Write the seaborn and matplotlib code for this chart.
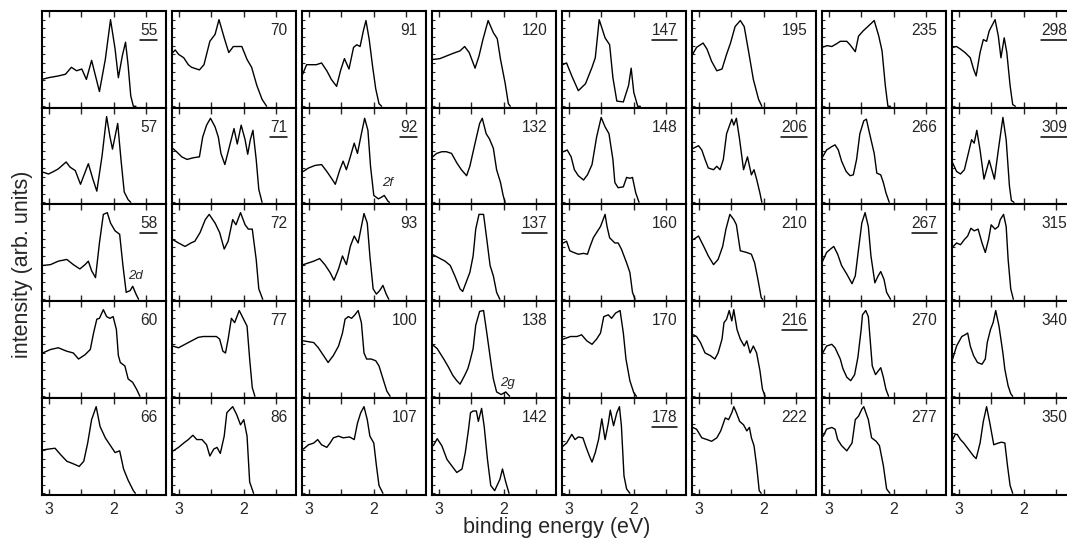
import pandas as pd
import seaborn as sns
import matplotlib.pyplot as plt
from matplotlib.lines import Line2D

# each spectrum: binding energies (eV) and intensities (arb. units)
e55 = [3.10, 3.00, 2.85, 2.74, 2.65, 2.57, 2.49, 2.42, 2.34, 2.22, 2.13, 2.05, 1.98, 1.93, 1.87, 1.82, 1.78, 1.74, 1.70, 1.66]
s55 = [0.31, 0.33, 0.35, 0.37, 0.45, 0.41, 0.43, 0.31, 0.53, 0.17, 0.54, 1.00, 0.66, 0.33, 0.58, 0.74, 0.47, 0.12, 0.00, 0.00]
e70 = [3.09, 3.05, 3.00, 2.92, 2.85, 2.80, 2.68, 2.61, 2.52, 2.44, 2.38, 2.30, 2.23, 2.16, 2.03, 1.95, 1.88, 1.80, 1.72, 1.65]
s70 = [0.62, 0.65, 0.60, 0.56, 0.48, 0.45, 0.42, 0.48, 0.75, 0.83, 1.00, 0.79, 0.62, 0.69, 0.69, 0.54, 0.45, 0.24, 0.08, 0.00]
e91 = [3.09, 3.03, 2.88, 2.80, 2.72, 2.65, 2.57, 2.51, 2.45, 2.38, 2.31, 2.26, 2.21, 2.16, 2.12, 2.07, 2.02, 1.97, 1.92, 1.88]
s91 = [0.37, 0.48, 0.48, 0.50, 0.41, 0.31, 0.23, 0.41, 0.55, 0.43, 0.68, 0.71, 0.69, 0.87, 0.99, 0.77, 0.47, 0.20, 0.03, 0.00]
e120 = [3.09, 2.98, 2.88, 2.78, 2.67, 2.60, 2.53, 2.44, 2.38, 2.32, 2.24, 2.16, 2.10, 2.05, 1.98, 1.93, 1.90]
s120 = [0.54, 0.55, 0.58, 0.61, 0.64, 0.69, 0.62, 0.44, 0.58, 0.77, 0.99, 0.85, 0.78, 0.54, 0.27, 0.03, 0.00]
e147 = [3.09, 3.03, 2.95, 2.85, 2.74, 2.64, 2.59, 2.53, 2.44, 2.37, 2.32, 2.26, 2.16, 2.08, 2.04, 2.00, 1.94, 1.90]
s147 = [0.48, 0.50, 0.35, 0.18, 0.26, 0.45, 0.56, 1.00, 0.79, 0.71, 0.33, 0.06, 0.05, 0.24, 0.44, 0.16, 0.00, 0.00]
e195 = [3.09, 3.03, 2.93, 2.87, 2.80, 2.72, 2.64, 2.57, 2.51, 2.44, 2.36, 2.30, 2.23, 2.16, 2.08, 2.03]
s195 = [0.60, 0.68, 0.73, 0.66, 0.52, 0.41, 0.43, 0.60, 0.73, 0.92, 0.99, 0.92, 0.62, 0.31, 0.08, 0.00]
e235 = [3.10, 3.02, 2.95, 2.88, 2.82, 2.72, 2.67, 2.59, 2.54, 2.47, 2.37, 2.30, 2.23, 2.18, 2.13, 2.09, 2.05]
s235 = [0.68, 0.70, 0.69, 0.72, 0.75, 0.75, 0.71, 0.63, 0.81, 0.87, 0.94, 0.99, 0.81, 0.64, 0.24, 0.00, 0.00]
e298 = [3.09, 3.03, 2.97, 2.90, 2.82, 2.77, 2.73, 2.67, 2.62, 2.57, 2.53, 2.44, 2.39, 2.35, 2.30, 2.26, 2.21, 2.17, 2.13]
s298 = [0.68, 0.69, 0.66, 0.62, 0.56, 0.43, 0.35, 0.62, 0.77, 0.75, 0.87, 1.00, 0.81, 0.56, 0.79, 0.62, 0.24, 0.02, 0.00]

e57 = [3.08, 3.00, 2.92, 2.85, 2.73, 2.67, 2.59, 2.51, 2.39, 2.32, 2.26, 2.18, 2.11, 2.06, 2.02, 1.98, 1.94, 1.89, 1.84, 1.78, 1.74]
s57 = [0.35, 0.33, 0.36, 0.39, 0.47, 0.41, 0.37, 0.21, 0.45, 0.27, 0.13, 0.54, 1.00, 0.77, 0.62, 0.77, 0.92, 0.50, 0.12, 0.03, 0.00]
e71 = [3.09, 3.03, 2.95, 2.87, 2.77, 2.68, 2.63, 2.57, 2.51, 2.44, 2.39, 2.35, 2.29, 2.22, 2.15, 2.10, 2.04, 1.98, 1.94, 1.90, 1.86, 1.81, 1.77, 1.72]
s71 = [0.63, 0.59, 0.53, 0.50, 0.52, 0.53, 0.76, 0.90, 0.98, 0.88, 0.76, 0.57, 0.44, 0.65, 0.86, 0.68, 0.90, 0.73, 0.56, 0.73, 0.84, 0.50, 0.15, 0.00]
e92 = [3.08, 3.00, 2.90, 2.80, 2.72, 2.64, 2.59, 2.52, 2.47, 2.42, 2.36, 2.30, 2.25, 2.19, 2.14, 2.09, 2.05, 2.00, 1.93, 1.88, 1.84, 1.78, 1.76]
s92 = [0.36, 0.40, 0.43, 0.44, 0.36, 0.27, 0.21, 0.38, 0.48, 0.38, 0.53, 0.69, 0.57, 0.80, 0.98, 0.84, 0.42, 0.08, 0.04, 0.06, 0.08, 0.01, 0.00]
e132 = [3.09, 3.03, 2.95, 2.88, 2.80, 2.72, 2.65, 2.57, 2.52, 2.44, 2.37, 2.33, 2.27, 2.22, 2.16, 2.11, 2.05, 2.01, 1.98]
s132 = [0.53, 0.57, 0.59, 0.59, 0.57, 0.46, 0.38, 0.31, 0.42, 0.69, 0.92, 0.98, 0.80, 0.74, 0.63, 0.38, 0.23, 0.08, 0.00]
e148 = [3.08, 3.02, 2.96, 2.91, 2.85, 2.77, 2.71, 2.64, 2.57, 2.50, 2.44, 2.38, 2.32, 2.29, 2.24, 2.16, 2.11, 2.06, 2.02, 1.97, 1.92]
s148 = [0.59, 0.61, 0.53, 0.38, 0.31, 0.26, 0.32, 0.44, 0.76, 0.99, 0.88, 0.80, 0.50, 0.23, 0.17, 0.18, 0.29, 0.28, 0.29, 0.11, 0.00]
e206 = [3.08, 3.00, 2.95, 2.90, 2.85, 2.77, 2.72, 2.67, 2.62, 2.57, 2.49, 2.46, 2.42, 2.37, 2.31, 2.25, 2.19, 2.15, 2.11, 2.06, 2.03]
s206 = [0.63, 0.66, 0.61, 0.50, 0.40, 0.38, 0.42, 0.38, 0.50, 0.80, 0.97, 0.90, 0.98, 0.73, 0.38, 0.53, 0.32, 0.38, 0.27, 0.11, 0.00]
e266 = [3.09, 3.03, 2.95, 2.90, 2.85, 2.80, 2.73, 2.67, 2.62, 2.57, 2.52, 2.46, 2.42, 2.37, 2.30, 2.26, 2.20, 2.16, 2.12, 2.07]
s266 = [0.53, 0.61, 0.65, 0.67, 0.61, 0.48, 0.36, 0.31, 0.32, 0.50, 0.80, 0.95, 0.97, 0.80, 0.57, 0.34, 0.32, 0.23, 0.11, 0.00]
e309 = [3.09, 3.03, 2.97, 2.91, 2.85, 2.80, 2.76, 2.72, 2.67, 2.61, 2.53, 2.45, 2.39, 2.32, 2.27, 2.22, 2.19, 2.15]
s309 = [0.46, 0.36, 0.33, 0.38, 0.57, 0.73, 0.69, 0.84, 0.61, 0.27, 0.49, 0.27, 0.61, 0.99, 0.73, 0.19, 0.02, 0.00]

e58 = [3.09, 2.97, 2.85, 2.72, 2.62, 2.52, 2.44, 2.39, 2.34, 2.28, 2.22, 2.16, 2.10, 2.05, 1.98, 1.91, 1.86, 1.81, 1.75, 1.71, 1.66, 1.62]
s58 = [0.39, 0.40, 0.44, 0.46, 0.40, 0.35, 0.40, 0.44, 0.33, 0.25, 0.65, 0.98, 1.00, 0.88, 0.79, 0.75, 0.39, 0.08, 0.10, 0.15, 0.06, 0.00]
e72 = [3.09, 3.00, 2.90, 2.81, 2.75, 2.67, 2.59, 2.53, 2.44, 2.37, 2.30, 2.24, 2.17, 2.12, 2.05, 1.98, 1.93, 1.87, 1.81, 1.77, 1.71]
s72 = [0.69, 0.65, 0.61, 0.65, 0.67, 0.77, 0.92, 0.98, 0.88, 0.77, 0.58, 0.67, 0.92, 0.86, 1.00, 0.86, 0.81, 0.81, 0.46, 0.12, 0.00]
e93 = [3.08, 3.00, 2.92, 2.83, 2.75, 2.67, 2.61, 2.54, 2.48, 2.42, 2.36, 2.30, 2.24, 2.19, 2.15, 2.10, 2.06, 2.01, 1.96, 1.91, 1.86, 1.81, 1.77]
s93 = [0.40, 0.42, 0.44, 0.47, 0.40, 0.31, 0.22, 0.35, 0.50, 0.40, 0.61, 0.73, 0.65, 0.84, 0.99, 0.88, 0.50, 0.12, 0.06, 0.10, 0.16, 0.06, 0.00]
e137 = [3.10, 3.00, 2.90, 2.82, 2.75, 2.67, 2.63, 2.57, 2.52, 2.47, 2.43, 2.38, 2.31, 2.26, 2.21, 2.16, 2.11, 2.06]
s137 = [0.52, 0.48, 0.44, 0.39, 0.27, 0.12, 0.09, 0.21, 0.31, 0.50, 0.81, 0.98, 0.98, 0.69, 0.39, 0.27, 0.08, 0.00]
e160 = [3.08, 3.03, 2.98, 2.92, 2.85, 2.77, 2.71, 2.67, 2.62, 2.57, 2.51, 2.44, 2.41, 2.37, 2.29, 2.24, 2.19, 2.11, 2.06, 2.02, 1.98]
s160 = [0.65, 0.67, 0.56, 0.54, 0.52, 0.53, 0.52, 0.61, 0.71, 0.77, 0.84, 0.98, 0.84, 0.71, 0.65, 0.65, 0.58, 0.42, 0.31, 0.08, 0.00]
e210 = [3.08, 3.00, 2.92, 2.85, 2.77, 2.70, 2.63, 2.58, 2.52, 2.46, 2.42, 2.36, 2.26, 2.19, 2.14, 2.09, 2.04, 2.02]
s210 = [0.69, 0.73, 0.61, 0.50, 0.40, 0.46, 0.61, 0.81, 0.98, 0.92, 0.86, 0.56, 0.54, 0.52, 0.42, 0.23, 0.02, 0.00]
e267 = [3.09, 3.03, 2.97, 2.92, 2.86, 2.80, 2.72, 2.64, 2.59, 2.54, 2.49, 2.44, 2.39, 2.35, 2.29, 2.24, 2.20, 2.15, 2.11, 2.05]
s267 = [0.44, 0.54, 0.58, 0.61, 0.52, 0.39, 0.29, 0.18, 0.27, 0.58, 0.88, 1.00, 0.84, 0.50, 0.19, 0.27, 0.32, 0.23, 0.08, 0.00]
e315 = [3.08, 3.03, 2.97, 2.91, 2.86, 2.81, 2.76, 2.70, 2.64, 2.59, 2.54, 2.50, 2.44, 2.39, 2.36, 2.31, 2.27, 2.24, 2.20, 2.16]
s315 = [0.61, 0.65, 0.63, 0.69, 0.73, 0.82, 0.79, 0.81, 0.65, 0.54, 0.69, 0.86, 0.81, 0.84, 0.92, 0.98, 0.84, 0.46, 0.12, 0.00]

e60 = [3.09, 2.97, 2.85, 2.72, 2.62, 2.54, 2.44, 2.36, 2.31, 2.26, 2.22, 2.16, 2.11, 2.06, 2.01, 1.96, 1.93, 1.90, 1.83, 1.78, 1.71, 1.65, 1.60]
s60 = [0.50, 0.54, 0.56, 0.52, 0.50, 0.43, 0.48, 0.54, 0.73, 0.89, 0.90, 1.00, 0.92, 0.90, 0.92, 0.77, 0.47, 0.39, 0.35, 0.20, 0.16, 0.08, 0.00]
e77 = [3.09, 3.00, 2.90, 2.80, 2.70, 2.62, 2.52, 2.42, 2.37, 2.32, 2.28, 2.24, 2.19, 2.14, 2.07, 2.01, 1.95, 1.91, 1.87, 1.83]
s77 = [0.58, 0.56, 0.60, 0.64, 0.68, 0.69, 0.69, 0.69, 0.66, 0.52, 0.50, 0.66, 0.90, 0.85, 0.99, 0.90, 0.81, 0.43, 0.10, 0.00]
e100 = [3.08, 3.00, 2.92, 2.85, 2.77, 2.70, 2.62, 2.54, 2.48, 2.44, 2.39, 2.34, 2.29, 2.24, 2.19, 2.15, 2.11, 2.04, 1.97, 1.92, 1.85, 1.80, 1.75]
s100 = [0.64, 0.63, 0.62, 0.56, 0.47, 0.39, 0.47, 0.58, 0.73, 0.89, 0.92, 0.90, 0.94, 0.99, 0.85, 0.50, 0.43, 0.43, 0.41, 0.35, 0.18, 0.06, 0.00]
e138 = [3.10, 3.02, 2.92, 2.85, 2.78, 2.72, 2.67, 2.60, 2.55, 2.52, 2.47, 2.43, 2.37, 2.31, 2.26, 2.19, 2.16, 2.11, 2.04, 1.97, 1.91]
s138 = [0.60, 0.55, 0.43, 0.34, 0.24, 0.18, 0.14, 0.24, 0.32, 0.40, 0.55, 0.82, 0.98, 0.99, 0.73, 0.35, 0.20, 0.05, 0.02, 0.05, 0.00]
e170 = [3.08, 2.97, 2.87, 2.80, 2.72, 2.64, 2.57, 2.51, 2.46, 2.39, 2.34, 2.28, 2.21, 2.16, 2.12, 2.06, 2.00, 1.96]
s170 = [0.66, 0.69, 0.69, 0.71, 0.64, 0.60, 0.66, 0.73, 0.92, 0.94, 0.90, 0.96, 0.99, 0.73, 0.43, 0.18, 0.04, 0.00]
e216 = [3.08, 3.03, 2.97, 2.90, 2.82, 2.75, 2.70, 2.64, 2.61, 2.57, 2.53, 2.49, 2.46, 2.41, 2.36, 2.30, 2.26, 2.21, 2.16, 2.11, 2.06, 2.02, 1.98]
s216 = [0.71, 0.69, 0.62, 0.50, 0.47, 0.43, 0.50, 0.66, 0.85, 0.89, 0.99, 0.87, 1.00, 0.77, 0.66, 0.58, 0.64, 0.50, 0.58, 0.50, 0.30, 0.08, 0.00]
e270 = [3.09, 3.03, 2.95, 2.90, 2.82, 2.78, 2.72, 2.66, 2.60, 2.55, 2.50, 2.48, 2.43, 2.39, 2.33, 2.28, 2.20, 2.16, 2.12, 2.08]
s270 = [0.50, 0.58, 0.60, 0.56, 0.43, 0.32, 0.22, 0.18, 0.25, 0.45, 0.77, 0.94, 0.99, 0.92, 0.35, 0.25, 0.33, 0.22, 0.08, 0.00]
e340 = [3.09, 3.03, 2.95, 2.90, 2.86, 2.82, 2.77, 2.71, 2.64, 2.59, 2.56, 2.51, 2.47, 2.43, 2.38, 2.32, 2.29, 2.24, 2.20, 2.17]
s340 = [0.43, 0.58, 0.69, 0.71, 0.73, 0.58, 0.47, 0.39, 0.37, 0.43, 0.62, 0.77, 0.85, 0.99, 0.81, 0.50, 0.31, 0.12, 0.03, 0.00]

e66 = [3.09, 3.00, 2.90, 2.82, 2.72, 2.62, 2.53, 2.46, 2.40, 2.34, 2.27, 2.21, 2.13, 2.06, 1.98, 1.91, 1.85, 1.78, 1.70, 1.67]
s66 = [0.50, 0.51, 0.52, 0.45, 0.37, 0.34, 0.31, 0.37, 0.58, 0.85, 1.00, 0.77, 0.64, 0.56, 0.47, 0.49, 0.28, 0.15, 0.03, 0.00]
e86 = [3.08, 3.00, 2.92, 2.85, 2.78, 2.72, 2.64, 2.57, 2.52, 2.46, 2.41, 2.36, 2.30, 2.26, 2.17, 2.11, 2.05, 2.00, 1.95, 1.91, 1.85]
s86 = [0.49, 0.53, 0.58, 0.62, 0.67, 0.62, 0.62, 0.56, 0.43, 0.51, 0.53, 0.46, 0.66, 0.93, 1.00, 0.91, 0.79, 0.85, 0.66, 0.13, 0.00]
e107 = [3.08, 3.00, 2.92, 2.86, 2.80, 2.72, 2.67, 2.62, 2.54, 2.47, 2.37, 2.30, 2.25, 2.20, 2.15, 2.10, 2.06, 2.00, 1.96, 1.92, 1.86]
s107 = [0.51, 0.56, 0.58, 0.62, 0.56, 0.53, 0.58, 0.64, 0.66, 0.64, 0.65, 0.62, 0.81, 0.93, 1.00, 0.85, 0.66, 0.58, 0.32, 0.09, 0.00]
e142 = [3.08, 3.02, 2.95, 2.87, 2.80, 2.72, 2.64, 2.59, 2.54, 2.51, 2.47, 2.42, 2.39, 2.34, 2.30, 2.25, 2.20, 2.14, 2.06, 2.02, 1.97, 1.92]
s142 = [0.55, 0.63, 0.55, 0.39, 0.32, 0.24, 0.28, 0.47, 0.74, 0.93, 0.95, 0.95, 0.83, 0.98, 0.77, 0.39, 0.09, 0.03, 0.16, 0.28, 0.13, 0.00]
e178 = [3.09, 3.03, 2.95, 2.90, 2.85, 2.78, 2.73, 2.68, 2.64, 2.59, 2.54, 2.49, 2.44, 2.39, 2.36, 2.31, 2.26, 2.22, 2.19, 2.15, 2.11, 2.06]
s178 = [0.54, 0.58, 0.68, 0.62, 0.65, 0.64, 0.53, 0.43, 0.36, 0.47, 0.62, 0.86, 0.62, 0.81, 0.96, 0.78, 0.93, 1.00, 0.78, 0.20, 0.05, 0.00]
e222 = [3.09, 3.03, 2.95, 2.87, 2.80, 2.72, 2.66, 2.59, 2.54, 2.49, 2.46, 2.42, 2.37, 2.31, 2.26, 2.22, 2.19, 2.15, 2.11, 2.07, 2.04]
s222 = [0.76, 0.74, 0.64, 0.62, 0.60, 0.64, 0.72, 0.87, 0.85, 0.93, 1.00, 0.93, 0.83, 0.79, 0.72, 0.76, 0.64, 0.55, 0.32, 0.03, 0.00]
e277 = [3.08, 3.03, 2.95, 2.90, 2.86, 2.80, 2.72, 2.64, 2.59, 2.54, 2.49, 2.46, 2.39, 2.34, 2.27, 2.22, 2.16, 2.11, 2.06]
s277 = [0.66, 0.74, 0.76, 0.74, 0.62, 0.55, 0.49, 0.58, 0.85, 0.89, 0.97, 1.00, 0.85, 0.64, 0.60, 0.55, 0.32, 0.05, 0.00]
e350 = [3.09, 3.05, 3.02, 2.97, 2.92, 2.85, 2.77, 2.73, 2.67, 2.62, 2.57, 2.52, 2.46, 2.39, 2.34, 2.29, 2.25, 2.21, 2.17]
s350 = [0.62, 0.68, 0.68, 0.62, 0.58, 0.51, 0.43, 0.40, 0.58, 0.83, 1.00, 0.81, 0.56, 0.58, 0.59, 0.58, 0.32, 0.09, 0.00]

layout = [
    [55, 70, 91, 120, 147, 195, 235, 298],
    [57, 71, 92, 132, 148, 206, 266, 309],
    [58, 72, 93, 137, 160, 210, 267, 315],
    [60, 77, 100, 138, 170, 216, 270, 340],
    [66, 86, 107, 142, 178, 222, 277, 350],
]
underlined = [55, 147, 298, 71, 92, 206, 309, 58, 137, 267, 216, 178]
notes = {58: "2d", 92: "2f", 138: "2g"}

spectra = {
    55: (e55, s55), 70: (e70, s70), 91: (e91, s91), 120: (e120, s120),
    147: (e147, s147), 195: (e195, s195), 235: (e235, s235), 298: (e298, s298),
    57: (e57, s57), 71: (e71, s71), 92: (e92, s92), 132: (e132, s132),
    148: (e148, s148), 206: (e206, s206), 266: (e266, s266), 309: (e309, s309),
    58: (e58, s58), 72: (e72, s72), 93: (e93, s93), 137: (e137, s137),
    160: (e160, s160), 210: (e210, s210), 267: (e267, s267), 315: (e315, s315),
    60: (e60, s60), 77: (e77, s77), 100: (e100, s100), 138: (e138, s138),
    170: (e170, s170), 216: (e216, s216), 270: (e270, s270), 340: (e340, s340),
    66: (e66, s66), 86: (e86, s86), 107: (e107, s107), 142: (e142, s142),
    178: (e178, s178), 222: (e222, s222), 277: (e277, s277), 350: (e350, s350),
}

sns.set_style("ticks")
plt.rcParams['font.family'] = ['Liberation Sans', 'DejaVu Sans']

W, H = 1067, 541
fig = plt.figure(figsize=(W / 100, H / 100), dpi=100)

col_left = [42, 172, 302, 432, 562, 692, 822, 952]
row_edges = [11, 108, 204, 301, 398, 495]
panel_w = 124
note_xy = {58: (1.78, 0.27), 92: (1.88, 0.22), 138: (2.06, 0.15)}

labels = []
for r, row in enumerate(layout):
    top, bot = row_edges[r], row_edges[r + 1]
    for c, n in enumerate(row):
        ax = fig.add_axes([col_left[c] / W, 1 - bot / H, panel_w / W, (bot - top) / H])
        en, vals = spectra[n]
        df = pd.DataFrame({"E": en, "I": vals})
        sns.lineplot(data=df, x="E", y="I", ax=ax, color="black", lw=1.0,
                     sort=False, estimator=None)
        ax.set_xlim(3.1, 1.2)
        ax.set_ylim(-0.02, 1.10)
        ax.set_xlabel("")
        ax.set_ylabel("")
        ax.set_xticks([3, 2.5, 2, 1.5])
        ax.set_xticklabels(["3", "", "2", ""])
        ax.set_yticks([0.1 * i for i in range(11)])
        ax.tick_params(axis="x", direction="in", top=True, bottom=True, length=4.5,
                       width=1.0, labelsize=11.5, pad=5,
                       labelbottom=(r == len(layout) - 1))
        ax.tick_params(axis="y", direction="in", left=True, right=False, length=2.2,
                       width=0.8, labelleft=False)
        for sp in ax.spines.values():
            sp.set_linewidth(1.5)
            sp.set_color("black")
        t = ax.text(0.93, 0.795, str(n), transform=ax.transAxes, ha="right",
                    va="center", fontsize=11.2)
        if n in underlined:
            labels.append(t)
        if n in notes:
            x, y = note_xy[n]
            ax.text(x, y, notes[n], ha="left", va="center", fontsize=9.5,
                    style="italic")

fig.text(557 / W, 1 - 527 / H, "binding energy (eV)", ha="center", va="center",
         fontsize=15.5)
fig.text(23 / W, 1 - 264 / H, "intensity (arb. units)", ha="center", va="center",
         rotation=90, fontsize=15.5)

fig.canvas.draw()
for t in labels:
    bb = t.get_window_extent()
    y = (bb.y0 - 1.5) / H
    fig.add_artist(Line2D([bb.x0 / W, bb.x1 / W], [y, y], color="black", lw=1.1,
                          transform=fig.transFigure))

fig.savefig("out.png", dpi=100)
